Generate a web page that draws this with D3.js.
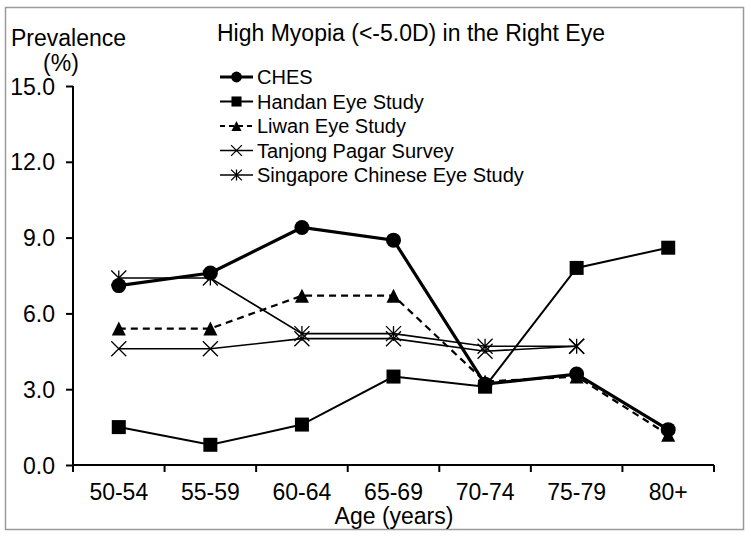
<!DOCTYPE html>
<html>
<head>
<meta charset="utf-8">
<script src="https://cdn.jsdelivr.net/npm/d3@7"></script>
<style>
  body { margin: 0; background: #fff; }
  text { font-family: Arial, "Liberation Sans", sans-serif; fill: #000; }
</style>
</head>
<body>
<svg id="chart" width="751" height="537"></svg>
<script>
const ages = ["50-54", "55-59", "60-64", "65-69", "70-74", "75-79", "80+"]
const yTicks = [0, 3, 6, 9, 12, 15]

const ches = [7.1, 7.6, 9.4, 8.9, 3.2, 3.6, 1.4]
const handan = [1.5, 0.8, 1.6, 3.5, 3.1, 7.8, 8.6]
const liwan = [5.4, 5.4, 6.7, 6.7, 3.3, 3.5, 1.2]
const tanjong = [4.6, 4.6, 5.0, 5.0, 4.5, 4.7]
const singapore = [7.4, 7.4, 5.2, 5.2, 4.7, 4.7]

const seriesNames = ["CHES", "Handan Eye Study", "Liwan Eye Study", "Tanjong Pagar Survey", "Singapore Chinese Eye Study"]

let svg = d3.select("#chart");

// frame
svg.append("rect")
  .attr("x", 5.5).attr("y", 7.5).attr("width", 738).attr("height", 522)
  .attr("fill", "#fff").attr("stroke", "#9a9a9a").attr("stroke-width", 1.5);

let pLeft = 73, pRight = 714, pTop = 86, pBottom = 465;

let x = d3.scaleBand().domain(ages).range([pLeft, pRight]);
let y = d3.scaleLinear().domain([0, 15]).range([pBottom, pTop]);

// y axis
let yAxis = svg.append("g")
  .attr("transform", `translate(${pLeft},0)`)
  .call(d3.axisLeft(y).tickValues(yTicks).tickFormat(d3.format(".1f")).tickSizeOuter(0).tickSize(7).tickPadding(11));
yAxis.select(".domain").attr("stroke-width", 2).attr("d", `M0,${pTop}V${pBottom}`);
yAxis.selectAll(".tick line").attr("stroke-width", 2);
yAxis.selectAll(".tick text").style("font-size", "23px").attr("dy", "0.35em");

// x axis
let xAxis = svg.append("g")
  .attr("transform", `translate(0,${pBottom})`)
  .call(d3.axisBottom(x).tickSize(0).tickPadding(19));
xAxis.select(".domain").attr("stroke-width", 2).attr("d", `M${pLeft},0H${pRight}`);
xAxis.selectAll(".tick text").style("font-size", "23px");
// tick marks at band boundaries
let edges = ages.map(a => x(a)).concat([pRight]);
xAxis.selectAll(".edge").data(edges).enter().append("line")
  .attr("x1", d => d).attr("x2", d => d)
  .attr("y1", 0).attr("y2", 7)
  .attr("stroke", "#000").attr("stroke-width", 2);

// axis titles
svg.append("text").attr("x", 11).attr("y", 46).style("font-size", "23px").text("Prevalence");
svg.append("text").attr("x", 61).attr("y", 71).attr("text-anchor", "middle").style("font-size", "23px").text("(%)");
svg.append("text").attr("x", 394).attr("y", 524).attr("text-anchor", "middle").style("font-size", "23px").text("Age (years)");
svg.append("text").attr("x", 217).attr("y", 41).style("font-size", "23px").text("High Myopia (<-5.0D) in the Right Eye");

// markers
function drawMarker(g, type, size) {
  let h = size / 2;
  if (type === "circle") {
    g.append("circle").attr("r", h).attr("fill", "#000");
  } else if (type === "square") {
    g.append("rect").attr("x", -h).attr("y", -h).attr("width", size).attr("height", size).attr("fill", "#000");
  } else if (type === "triangle") {
    g.append("path").attr("d", `M0,${-h}L${h},${h}L${-h},${h}Z`).attr("fill", "#000");
  } else if (type === "cross") {
    g.append("path").attr("d", `M${-h},${-h}L${h},${h}M${-h},${h}L${h},${-h}`)
      .attr("stroke", "#000").attr("stroke-width", 1.3).attr("fill", "none");
  } else if (type === "star") {
    g.append("path").attr("d", `M${-h},${-h}L${h},${h}M${-h},${h}L${h},${-h}M0,${-h}V${h}`)
      .attr("stroke", "#000").attr("stroke-width", 1.3).attr("fill", "none");
  }
}

let series = [
  { name: seriesNames[0], values: ches, marker: "circle", size: 15, width: 3.2, dash: null },
  { name: seriesNames[1], values: handan, marker: "square", size: 14, width: 2, dash: null },
  { name: seriesNames[2], values: liwan, marker: "triangle", size: 14, width: 2.2, dash: "7,5" },
  { name: seriesNames[3], values: tanjong, marker: "cross", size: 15, width: 1.6, dash: null },
  { name: seriesNames[4], values: singapore, marker: "star", size: 15, width: 1.6, dash: null }
];

let line = d3.line()
  .x((d, i) => x(ages[i]) + x.bandwidth() / 2)
  .y(d => y(d));

// draw in reverse so CHES is on top
series.slice().reverse().forEach(s => {
  let g = svg.append("g");
  g.append("path")
    .attr("d", line(s.values))
    .attr("fill", "none")
    .attr("stroke", "#000")
    .attr("stroke-width", s.width)
    .attr("stroke-dasharray", s.dash);
  s.values.forEach((v, i) => {
    let m = g.append("g").attr("transform", `translate(${x(ages[i]) + x.bandwidth() / 2},${y(v)})`);
    drawMarker(m, s.marker, s.size);
  });
});

// legend
let legend = svg.append("g");
series.forEach((s, i) => {
  let ly = 77 + i * 24.5;
  let row = legend.append("g");
  row.append("line")
    .attr("x1", 220).attr("x2", 253).attr("y1", ly).attr("y2", ly)
    .attr("stroke", "#000").attr("stroke-width", s.width)
    .attr("stroke-dasharray", s.dash ? "5,4" : null);
  let m = row.append("g").attr("transform", `translate(236.5,${ly})`);
  drawMarker(m, s.marker, s.size * 0.72);
  row.append("text").attr("x", 257).attr("y", ly).attr("dy", "0.36em")
    .style("font-size", "20px").text(s.name);
});
</script>
</body>
</html>
